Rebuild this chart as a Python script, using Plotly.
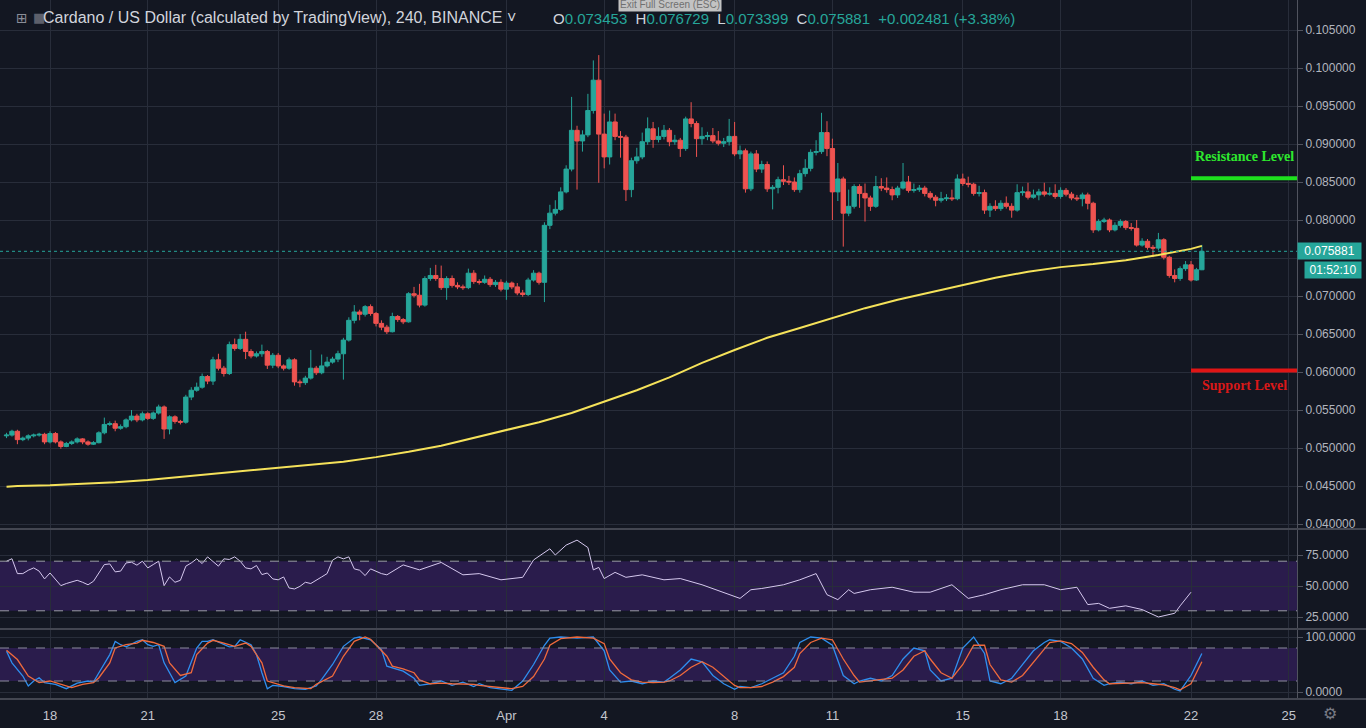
import plotly.graph_objects as go
import pandas as pd

# ---------------- data ----------------
first_open = 0.0516
closes = [
    .0517, .0522, .0511, .0513, .0516, .0517, .0518, .0508, .0519, .0508,
    .0502, .0506, .0508, .0512, .0508, .0505, .0507, .0520, .0531, .0532,
    .0526, .0528, .0537, .0542, .0537, .0545, .0539, .0546, .0554, .0525,
    .0541, .0535, .0534, .0567, .0576, .0580, .0594, .0588, .0616, .0605,
    .0598, .0636, .0631, .0643, .0627, .0621, .0624, .0627, .0609, .0622,
    .0608, .0605, .0616, .0587, .0586, .0592, .0605, .0599, .0608, .0613,
    .0617, .0624, .0642, .0668, .0679, .0676, .0686, .0677, .0664, .0659,
    .0653, .0673, .0669, .0666, .0703, .0701, .0688, .0723, .0727, .0723,
    .0711, .0723, .0714, .0712, .0711, .0730, .0719, .0718, .0722, .0715,
    .0718, .0709, .0717, .0712, .0704, .0702, .0721, .0730, .0718, .0793,
    .0809, .0814, .0837, .0867, .0918, .0904, .0912, .0944, .0984, .0913,
    .0883, .0929, .0910, .0909, .0840, .0878, .0883, .0903, .0920, .0906,
    .0910, .0918, .0903, .0905, .0894, .0933, .0927, .0907, .0910, .0911,
    .0904, .0901, .0903, .0910, .0887, .0891, .0841, .0887, .0867, .0873,
    .0841, .0843, .0853, .0851, .0850, .0840, .0861, .0868, .0889, .0890,
    .0915, .0894, .0837, .0854, .0809, .0818, .0844, .0835, .0829, .0818,
    .0844, .0842, .0840, .0833, .0842, .0850, .0839, .0840, .0842, .0835,
    .0830, .0826, .0828, .0829, .0828, .0854, .0848, .0847, .0835, .0836,
    .0813, .0818, .0815, .0822, .0818, .0813, .0836, .0837, .0830, .0833,
    .0837, .0834, .0835, .0831, .0839, .0834, .0829, .0828, .0833, .0822,
    .0787, .0798, .0800, .0787, .0793, .0798, .0790, .0789, .0767, .0772,
    .0764, .0763, .0774, .0751, .0727, .0723, .0736, .0741, .0721, .073453,
    .075881,
]
highs = [
    .0520, .0524, .0524, .0515, .0518, .0519, .0520, .0520, .0522, .0521,
    .0510, .0508, .0510, .0514, .0513, .0510, .0509, .0522, .0540, .0535,
    .0536, .0531, .0539, .0550, .0545, .0548, .0547, .0548, .0557, .0556,
    .0543, .0543, .0537, .0570, .0580, .0586, .0598, .0596, .0620, .0624,
    .0608, .0640, .0644, .0650, .0653, .0630, .0627, .0636, .0629, .0625,
    .0625, .0610, .0619, .0618, .0590, .0595, .0629, .0608, .0623, .0620,
    .0620, .0628, .0645, .0672, .0688, .0682, .0688, .0689, .0679, .0668,
    .0662, .0678, .0675, .0671, .0705, .0712, .0716, .0726, .0737, .0741,
    .0740, .0726, .0727, .0718, .0715, .0736, .0734, .0722, .0727, .0725,
    .0721, .0722, .0720, .0719, .0717, .0708, .0724, .0734, .0732, .0797,
    .0820, .0826, .0843, .0872, .0962, .0924, .0918, .0966, .1010, .1017,
    .0940, .0944, .0940, .0917, .0912, .0882, .0895, .0915, .0935, .0929,
    .0922, .0925, .0921, .0912, .0908, .0936, .0955, .0930, .0922, .0916,
    .0921, .0917, .0908, .0933, .0929, .0898, .0894, .0890, .0892, .0878,
    .0877, .0846, .0857, .0872, .0858, .0856, .0866, .0880, .0893, .0905,
    .0941, .0930, .0907, .0875, .0857, .0840, .0847, .0847, .0848, .0832,
    .0858, .0855, .0856, .0844, .0845, .0875, .0858, .0848, .0846, .0845,
    .0838, .0833, .0837, .0834, .0840, .0860, .0861, .0857, .0849, .0845,
    .0840, .0822, .0826, .0826, .0831, .0822, .0847, .0844, .0849, .0840,
    .0841, .0849, .0843, .0847, .0843, .0842, .0837, .0833, .0836, .0836,
    .0824, .0801, .0803, .0802, .0797, .0801, .0800, .0796, .0800, .0776,
    .0775, .0767, .0783, .0776, .0753, .0735, .0739, .0746, .0746, .0737,
    .076729,
]
lows = [
    .0513, .0515, .0505, .0509, .0510, .0514, .0515, .0505, .0506, .0506,
    .0499, .0501, .0504, .0506, .0505, .0503, .0504, .0506, .0518, .0529,
    .0522, .0524, .0526, .0535, .0534, .0535, .0537, .0537, .0544, .0512,
    .0518, .0532, .0531, .0532, .0563, .0574, .0578, .0584, .0583, .0602,
    .0594, .0596, .0628, .0629, .0617, .0618, .0619, .0620, .0604, .0605,
    .0605, .0602, .0603, .0582, .0580, .0583, .0590, .0596, .0597, .0606,
    .0611, .0613, .0590, .0640, .0664, .0668, .0673, .0674, .0660, .0655,
    .0650, .0652, .0666, .0663, .0665, .0698, .0685, .0686, .0720, .0720,
    .0708, .0695, .0711, .0709, .0708, .0709, .0716, .0715, .0716, .0712,
    .0712, .0706, .0695, .0709, .0701, .0699, .0700, .0719, .0715, .0692,
    .0788, .0806, .0812, .0835, .0864, .0840, .0890, .0909, .0940, .0849,
    .0868, .0873, .0905, .0882, .0825, .0830, .0874, .0880, .0899, .0895,
    .0902, .0906, .0897, .0899, .0883, .0891, .0922, .0883, .0899, .0905,
    .0901, .0898, .0896, .0898, .0884, .0880, .0836, .0838, .0863, .0862,
    .0837, .0814, .0835, .0846, .0846, .0837, .0836, .0857, .0864, .0885,
    .0887, .0884, .0800, .0825, .0765, .0805, .0815, .0816, .0798, .0812,
    .0816, .0838, .0836, .0826, .0829, .0840, .0836, .0836, .0837, .0831,
    .0827, .0818, .0823, .0825, .0825, .0826, .0845, .0843, .0832, .0831,
    .0808, .0804, .0812, .0812, .0815, .0803, .0811, .0832, .0827, .0828,
    .0826, .0831, .0832, .0828, .0828, .0831, .0826, .0825, .0818, .0814,
    .0783, .0785, .0796, .0784, .0785, .0790, .0787, .0786, .0765, .0765,
    .0761, .0751, .0760, .0748, .0724, .0718, .0720, .0733, .0719, .0720,
    .073399,
]
opens = [first_open] + closes[:-1]
bar_start = "2019-03-16 16:00"
bar_freq = "4h"

# 200-period moving average, read once a day (plus first and last bar)
ma_first = .0449
ma_start = "2019-03-17"
ma_values = [
    .0450, .0451, .0453, .0455, .0458, .0462, .0466, .0470, .0474, .0478,
    .0482, .0488, .0495, .0503, .0513, .0524, .0534, .0546, .0561, .0576,
    .0593, .0612, .0629, .0645, .0658, .0671, .0684, .0695, .0705, .0715,
    .0724, .0732, .0738, .0742, .0747, .0754, .0762,
]
ma_last = .0766

# RSI readings (bar index, value)
rsi_idx = list(range(0, 71)) + [73, 76, 80, 84, 87, 91, 95, 97, 99, 100, 101, 103, 105, 107, 108,
                                 109, 110, 112, 114, 117, 121, 124, 128, 132, 135, 137, 139, 143,
                                 146, 149, 151, 153, 155, 156, 159, 163, 167, 170, 174, 177, 180,
                                 183, 187, 191, 194, 197, 199, 201, 203, 206, 209, 212, 215, 216,
                                 218, 220]
rsi_val = [70, 72, 60, 60, 62.7, 64.6, 62, 55.7, 60.5, 55, 50.3, 52, 53, 54.6, 53, 51, 53.8, 61,
           67.3, 67.8, 61.4, 62, 68.6, 69.2, 66.8, 70, 64.6, 67.3, 70, 50.3, 57.3, 53, 54.6, 66,
           68.6, 71.9, 68.1, 73.5, 69.5, 66, 71.9, 71.4, 73.5, 70, 64.6, 63.8, 66.5, 59.2, 60.5,
           55.7, 55, 57.3, 48.4, 47.6, 49.7, 53, 52, 55, 57.3, 60, 70.8, 73.5, 71.9, 73.5, 63.8,
           62.7, 58.4, 63.8, 62, 60, 59,
           67, 63, 69, 59, 60, 55, 57, 71, 77, 80, 75, 83, 87, 81, 63, 65, 56, 61, 57, 59, 55, 56,
           51, 45, 40, 47, 48, 51, 55, 60, 43, 39, 47, 44, 47, 49, 45, 45, 51, 40, 43, 47, 51, 51,
           47, 49, 35, 36, 32, 34, 31, 25, 28, 34, 45]

# Stochastic RSI readings
k_idx = [0, 1, 3, 4, 5, 6, 7, 9, 11, 13, 15, 16, 17, 19, 20, 21, 22, 24, 25, 26, 27, 28, 29, 30,
         31, 33, 34, 35, 36, 37, 38, 40, 41, 42, 43, 45, 46, 47, 48, 49, 51, 53, 55, 57, 58, 60,
         62, 64, 65, 67, 69, 70, 73,
         75, 76, 78, 80, 82, 84, 86, 87, 89, 91, 93, 95, 97, 99, 100, 102, 105, 108, 110, 111,
         113, 115, 117, 119, 121, 122, 124, 126, 128, 130, 132, 134, 135, 137, 139, 141, 143,
         145, 146, 148, 150, 152, 154, 156, 157, 159, 161, 163, 165, 167, 169, 170, 172, 174,
         176, 178, 180, 181, 183, 185, 187, 189, 191, 192, 194, 196, 198, 200, 202, 203, 205,
         207, 209, 211, 213, 215, 216, 218, 220]
k_val = [74, 53, 29, 11, 20, 26, 17, 14, 6, 16, 20, 18, 35, 68, 92, 86, 82, 92, 95, 86, 83, 86,
         53, 35, 17, 29, 56, 80, 92, 92, 95, 86, 82, 83, 95, 86, 68, 35, 6, 12, 10, 6, 5, 11, 23,
         50, 83, 98, 100, 95, 77, 47, 38,
         25, 12, 15, 20, 12, 18, 10, 15, 8, 5, 3, 20, 50, 85, 98, 100, 98, 100, 75, 40, 18, 20,
         15, 20, 18, 25, 40, 60, 55, 30, 15, 5, 10, 8, 15, 25, 35, 65, 90, 100, 98, 85, 30, 15,
         20, 25, 20, 30, 60, 80, 75, 40, 20, 25, 80, 100, 70, 20, 15, 25, 50, 75, 90, 95, 92, 80,
         60, 25, 12, 15, 18, 15, 20, 12, 15, 5, 2, 30, 70]
d_idx = [0, 2, 4, 6, 8, 10, 12, 14, 16, 17, 19, 20, 22, 24, 25, 27, 29, 30, 32, 34, 35, 37, 38,
         40, 42, 44, 45, 47, 48, 51, 53, 56, 57, 60, 62, 64, 66, 67, 70, 71, 73,
         75, 76, 78, 80, 82, 84, 86, 87, 89, 91, 93, 95, 97, 99, 100, 102, 105, 108, 110, 111,
         113, 115, 117, 119, 121, 122, 124, 126, 128, 130, 132, 134, 135, 137, 139, 141, 143,
         145, 146, 148, 150, 152, 154, 156, 157, 159, 161, 163, 165, 167, 169, 170, 172, 174,
         176, 178, 180, 181, 183, 185, 187, 189, 191, 192, 194, 196, 198, 200, 202, 203, 205,
         207, 209, 211, 213, 215, 216, 218, 220]
d_val = [76, 59, 29, 17, 20, 14, 8, 14, 17, 26, 53, 80, 86, 89, 94, 90, 83, 53, 30, 35, 68, 89,
         94, 89, 83, 89, 83, 53, 20, 11, 8, 6, 14, 29, 65, 92, 100, 96, 65, 47, 42,
         35, 22, 15, 16, 15, 14, 14, 12, 10, 8, 6, 10, 28, 60, 85, 97, 100, 98, 88, 60, 35, 22,
         18, 17, 18, 20, 30, 45, 55, 45, 28, 12, 8, 8, 10, 18, 28, 45, 70, 90, 98, 95, 60, 30,
         18, 20, 22, 25, 40, 65, 75, 60, 35, 25, 50, 85, 85, 50, 22, 18, 30, 55, 78, 90, 93, 88,
         72, 45, 22, 15, 16, 16, 17, 15, 13, 8, 4, 15, 55]

price_ticks = [0.040, 0.045, 0.050, 0.055, 0.060, 0.065, 0.070, 0.075, 0.080, 0.085, 0.090,
               0.095, 0.100, 0.105]
hidden_price_tick = 0.075   # covered by the last-price label in the original
rsi_ticks = [25, 50, 75]
stoch_ticks = [0, 100]
date_ticks = ["2019-03-18", "2019-03-21", "2019-03-25", "2019-03-28", "2019-04-01", "2019-04-04",
              "2019-04-08", "2019-04-11", "2019-04-15", "2019-04-18", "2019-04-22", "2019-04-25"]
date_labels = ["18", "21", "25", "28", "Apr", "4", "8", "11", "15", "18", "22", "25"]
resistance_level = 0.0855
support_level = 0.0602
level_start = "2019-04-22"
rsi_upper, rsi_lower = 70, 30
stoch_upper, stoch_lower = 80, 20
header_title = "Cardano / US Dollar (calculated by TradingView), 240, BINANCE ˅"
change_text = "+0.002481 (+3.38%)"
countdown = "01:52:10"
last_price = closes[-1]

# ---------------- figure ----------------
times = pd.date_range(bar_start, periods=len(closes), freq=bar_freq)
ma_times = [times[0]] + list(pd.date_range(ma_start, periods=len(ma_values), freq="D")) + [times[-1]]
ma_all = [ma_first] + ma_values + [ma_last]

BG = "#131722"
GRID = "#282d3a"
TXT = "#b2b5be"
UP = "#26a69a"
DOWN = "#ef5350"
BAND = "#2a1c4c"

W, H = 1366, 728
PW = 1297   # plot width in px
PH = 700    # plot height in px

def py(v):  # pixel-from-top to paper y
    return (PH - v) / PH

def px(v):
    return v / PW

fig = go.Figure()
fig.add_trace(go.Candlestick(
    x=times, open=opens, high=highs, low=lows, close=closes,
    increasing=dict(line=dict(color=UP, width=1), fillcolor=UP),
    decreasing=dict(line=dict(color=DOWN, width=1), fillcolor=DOWN),
    whiskerwidth=0, xaxis="x2", yaxis="y", showlegend=False, hoverinfo="skip"))
fig.add_trace(go.Scatter(x=ma_times, y=ma_all, mode="lines", line=dict(color="#f5e25a", width=2),
                         xaxis="x2", yaxis="y", showlegend=False, hoverinfo="skip"))

fig.add_trace(go.Scatter(x=[times[i] for i in rsi_idx], y=rsi_val, mode="lines",
                         line=dict(color="#d5c8ee", width=1), xaxis="x3", yaxis="y2",
                         showlegend=False, hoverinfo="skip"))
fig.add_trace(go.Scatter(x=[times[i] for i in k_idx], y=k_val, mode="lines",
                         line=dict(color="#2f8fef", width=1.3), xaxis="x", yaxis="y3",
                         showlegend=False, hoverinfo="skip"))
fig.add_trace(go.Scatter(x=[times[i] for i in d_idx], y=d_val, mode="lines",
                         line=dict(color="#f06a3c", width=1.3), xaxis="x", yaxis="y3",
                         showlegend=False, hoverinfo="skip"))

x0 = pd.Timestamp("2019-03-18") - pd.Timedelta(days=50 / 32.6)
x1 = pd.Timestamp("2019-03-18") + pd.Timedelta(days=1247 / 32.6)

xcommon = dict(range=[x0, x1], showgrid=True, gridcolor=GRID, gridwidth=1, zeroline=False,
               tickvals=date_ticks, ticktext=date_labels, showline=False, fixedrange=True)

main_dom = [py(528), 1]
rsi_dom = [py(628), py(530)]
st_dom = [0, py(630)]

def yax(dom, rng, vals, texts, **kw):
    d = dict(domain=dom, range=rng, side="right", tickvals=vals, ticktext=texts,
             showgrid=True, gridcolor=GRID, zeroline=False, ticks="outside", ticklen=5,
             tickcolor="#50535e", tickfont=dict(color=TXT, size=12, family="Arial"),
             showline=True, linecolor="#50535e", linewidth=1, fixedrange=True)
    d.update(kw)
    return d

price_text = ["" if v == hidden_price_tick else f"{v:.6f}" for v in price_ticks]

fig.update_layout(
    width=W, height=H, paper_bgcolor=BG, plot_bgcolor=BG,
    margin=dict(l=0, r=W - PW, t=0, b=H - PH),
    font=dict(family="Arial", color=TXT),
    boxgap=0.2, boxgroupgap=0,
    xaxis=dict(**xcommon, anchor="y3", showticklabels=True, ticklabelstandoff=6,
               tickfont=dict(color="#c3c6ce", size=13, family="Arial"), ticks=""),
    xaxis2=dict(**xcommon, anchor="y", matches="x", showticklabels=False,
                rangeslider=dict(visible=False)),
    xaxis3=dict(**xcommon, anchor="y2", matches="x", showticklabels=False),
    yaxis=yax(main_dom, [0.040 - 4 / 38 * 0.005, 0.105 + 30 / 38 * 0.005], price_ticks,
              price_text),
    yaxis2=yax(rsi_dom, [25 - 11 / 1.24, 75 + 25 / 1.24], rsi_ticks,
               [f"{v:.4f}" for v in rsi_ticks]),
    yaxis3=yax(st_dom, [-8 / 0.55, 100 + 7 / 0.55], stoch_ticks,
               [f"{v:.4f}" for v in stoch_ticks]),
)

shapes = []
shapes.append(dict(type="rect", xref="x3 domain", yref="y2", x0=0, x1=1, y0=rsi_lower, y1=rsi_upper,
                   fillcolor=BAND, line=dict(width=0), layer="below"))
shapes.append(dict(type="rect", xref="x domain", yref="y3", x0=0, x1=1, y0=stoch_lower,
                   y1=stoch_upper, fillcolor=BAND, line=dict(width=0), layer="below"))
for yv in (rsi_lower, rsi_upper):
    shapes.append(dict(type="line", xref="x3 domain", yref="y2", x0=0, x1=1, y0=yv, y1=yv,
                       line=dict(color="#9a9ca6", width=1, dash="dash")))
for yv in (stoch_lower, stoch_upper):
    shapes.append(dict(type="line", xref="x domain", yref="y3", x0=0, x1=1, y0=yv, y1=yv,
                       line=dict(color="#8d8c9e", width=1, dash="dash")))
for pyv in (529, 629, 699):
    shapes.append(dict(type="line", xref="paper", yref="paper", x0=0, x1=W / PW,
                       y0=py(pyv), y1=py(pyv), line=dict(color="#434651", width=2)))
shapes.append(dict(type="line", xref="paper", yref="y", x0=0, x1=1, y0=last_price, y1=last_price,
                   line=dict(color=UP, width=1, dash="dot")))
shapes.append(dict(type="line", xref="x2", yref="y", x0=level_start, x1=x1, y0=resistance_level,
                   y1=resistance_level, line=dict(color="#1ee01e", width=4)))
shapes.append(dict(type="line", xref="x2", yref="y", x0=level_start, x1=x1, y0=support_level,
                   y1=support_level, line=dict(color="#e01515", width=4)))
fig.update_layout(shapes=shapes)

mid_level = pd.Timestamp(level_start) + (x1 - pd.Timestamp(level_start)) / 2
ann = []
ann.append(dict(xref="x2", yref="y", x=mid_level, y=resistance_level, yshift=22,
                text="<b>Resistance Level</b>", showarrow=False,
                font=dict(family="Liberation Serif", size=14, color="#2ee82e")))
ann.append(dict(xref="x2", yref="y", x=mid_level, y=support_level, yshift=-15,
                text="<b>Support Level</b>", showarrow=False,
                font=dict(family="Liberation Serif", size=14, color="#d91818")))
ann.append(dict(xref="paper", yref="y", x=1.0, y=last_price, xanchor="left", yanchor="middle",
                text=f"{last_price:.6f}", showarrow=False, bgcolor=UP, width=63, height=16,
                borderpad=0, font=dict(color="#ffffff", size=12, family="Arial")))
ann.append(dict(xref="paper", yref="y", x=px(1304), y=last_price, yshift=-19, xanchor="left",
                yanchor="middle", text=countdown, showarrow=False, bgcolor=UP, width=56, height=16,
                borderpad=0, font=dict(color="#ffffff", size=12, family="Arial")))
ann.append(dict(xref="paper", yref="paper", x=px(14), y=py(18), xanchor="left", yanchor="middle",
                text="⊞", showarrow=False, font=dict(color="#8a8e99", size=14, family="DejaVu Sans")))
ann.append(dict(xref="paper", yref="paper", x=px(31), y=py(18), xanchor="left", yanchor="middle",
                text="■", showarrow=False, font=dict(color="#5d606b", size=13, family="DejaVu Sans")))
ann.append(dict(xref="paper", yref="paper", x=px(41), y=py(18), xanchor="left", yanchor="middle",
                text=header_title, showarrow=False,
                font=dict(color="#d1d4dc", size=16, family="Arial")))
o, h, l, c = opens[-1], highs[-1], lows[-1], closes[-1]
g = UP
ohlc = (f"O<span style='color:{g}'>{o:.6f}</span>  H<span style='color:{g}'>{h:.6f}</span>  "
        f"L<span style='color:{g}'>{l:.6f}</span>  C<span style='color:{g}'>{c:.6f}</span>  "
        f"<span style='color:{g}'>{change_text}</span>")
ann.append(dict(xref="paper", yref="paper", x=px(551), y=py(19), xanchor="left", yanchor="middle",
                text=ohlc, showarrow=False, font=dict(color="#d1d4dc", size=15, family="Arial")))
ann.append(dict(xref="paper", yref="paper", x=px(670), y=py(5), xanchor="center", yanchor="middle",
                text="Exit Full Screen (ESC)", showarrow=False, bgcolor="#c3c3c3",
                font=dict(color="#707070", size=10, family="Arial"), borderpad=1))
ann.append(dict(xref="paper", yref="paper", x=px(1330), y=py(713), xanchor="center",
                yanchor="middle", text="⚙", showarrow=False,
                font=dict(color="#787b86", size=16, family="DejaVu Sans")))
fig.update_layout(annotations=ann)

fig.write_html("out.html")
